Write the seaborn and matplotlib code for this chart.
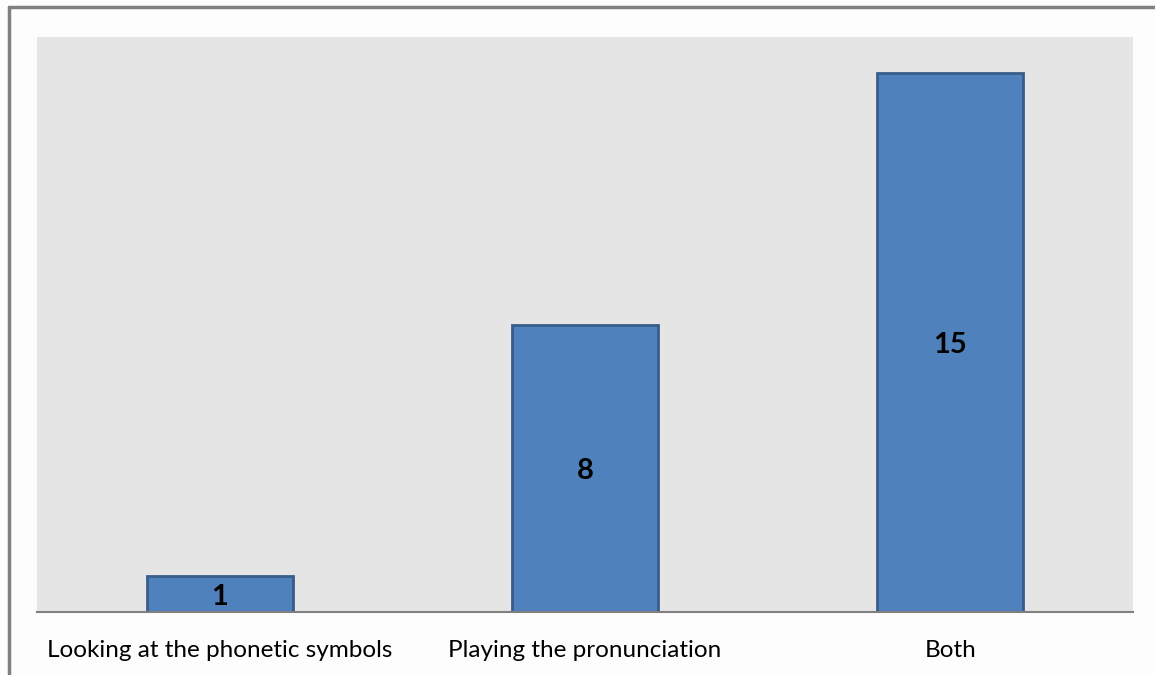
import matplotlib
matplotlib.use("Agg")
import matplotlib.pyplot as plt
import seaborn as sns
import pandas as pd
from matplotlib.lines import Line2D

categories = ["Looking at the phonetic symbols", "Playing the pronunciation", "Both"]
counts = [1, 8, 15]

df = pd.DataFrame({"method": categories, "count": counts})

sns.set_style("white")
plt.rcParams["font.family"] = ["Lato", "DejaVu Sans"]

fig = plt.figure(figsize=(11.55, 6.75), dpi=100)
fig.patch.set_facecolor("#fdfdfd")
W, H = 1155, 675
ax = fig.add_axes([37 / W, 1 - 612 / H, (1133 - 37) / W, (612 - 37) / H])

sns.barplot(data=df, x="method", y="count", ax=ax, color="#4f81bd",
            saturation=1, width=0.4, edgecolor="#385d8a", linewidth=2)

ax.set_facecolor("#e5e5e5")
ax.set_ylim(0, 16)
ax.set_xlim(-0.5, 2.5)
ax.set_yticks([])
ax.set_xlabel("")
ax.set_ylabel("")
for s in ["top", "right", "left"]:
    ax.spines[s].set_visible(False)
ax.spines["bottom"].set_color("#808080")
ax.spines["bottom"].set_linewidth(1.5)
ax.tick_params(axis="x", length=0, labelsize=17.5, colors="black", pad=20)

# value labels, centred inside the bars
for i, v in enumerate(counts):
    ax.text(i, v / 2 - 0.08, str(v), ha="center", va="center",
            fontsize=21, fontweight="bold", color="black")

# outer chart border (top and left visible)
fig.add_artist(Line2D([9 / W, 1], [1 - 7 / H, 1 - 7 / H], transform=fig.transFigure,
                      color="#808080", linewidth=2.5))
fig.add_artist(Line2D([9 / W, 9 / W], [0, 1 - 7 / H], transform=fig.transFigure,
                      color="#808080", linewidth=2.5))

fig.savefig("out.png", dpi=100, facecolor=fig.get_facecolor())
